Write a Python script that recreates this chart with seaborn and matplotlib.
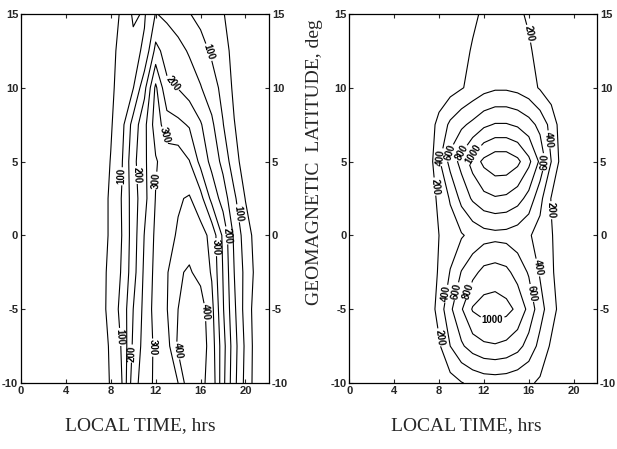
import matplotlib
matplotlib.use("Agg")
import matplotlib.pyplot as plt
import numpy as np
import seaborn as sns

# grid nodes (LOCAL TIME, hrs / GEOMAGNETIC LATITUDE, deg)
local_time = [0, 4, 6, 7, 8, 9, 10, 11, 12, 13, 14, 15, 16, 17, 18, 19, 20, 21, 22, 24]
latitude = [-10, -7.5, -5, -2.5, 0, 2.5, 5, 7.5, 10, 12.5, 15]

# left panel field, one row per latitude (from -10 to 15)
left_rows = [
    [0, 0, 5, 15, 55, 100, 230, 275, 310, 330, 350, 440, 410, 385, 265, 165, 85, 25, 5, 0],
    [0, 0, 5, 20, 58, 105, 210, 270, 310, 330, 410, 440, 430, 375, 270, 170, 90, 25, 5, 0],
    [0, 0, 5, 25, 70, 115, 200, 265, 320, 348, 400, 430, 425, 365, 255, 160, 80, 25, 5, 0],
    [0, 0, 8, 28, 65, 105, 180, 260, 315, 345, 395, 405, 385, 345, 248, 150, 85, 35, 8, 0],
    [0, 0, 8, 25, 58, 101, 175, 252, 310, 335, 355, 380, 370, 335, 240, 140, 75, 30, 8, 0],
    [0, 0, 8, 25, 58, 103, 175, 235, 302, 330, 345, 355, 318, 235, 178, 110, 48, 20, 5, 0],
    [0, 0, 8, 20, 52, 97, 185, 240, 295, 325, 330, 302, 235, 185, 135, 70, 25, 10, 3, 0],
    [0, 0, 8, 20, 45, 85, 170, 235, 325, 275, 262, 245, 205, 160, 102, 52, 20, 8, 2, 0],
    [0, 0, 8, 25, 42, 68, 98, 185, 310, 210, 198, 175, 153, 122, 85, 40, 15, 5, 0, 0],
    [0, 0, 8, 25, 40, 62, 85, 108, 215, 180, 165, 145, 120, 92, 62, 40, 20, 8, 0, 0],
    [0, 0, 8, 20, 35, 55, 108, 95, 152, 140, 125, 102, 85, 68, 52, 35, 20, 10, 3, 0],
]

# right panel field, one row per latitude (from -10 to 15)
right_rows = [
    [0, 0, 5, 20, 60, 120, 190, 240, 280, 290, 280, 250, 230, 170, 80, 30, 5, 0, 0, 0],
    [0, 0, 10, 40, 170, 400, 570, 690, 760, 780, 750, 670, 520, 340, 170, 60, 15, 5, 0, 0],
    [0, 0, 15, 60, 280, 560, 780, 1020, 1090, 1100, 1060, 960, 740, 480, 280, 110, 25, 5, 0, 0],
    [0, 0, 15, 80, 220, 410, 610, 740, 860, 890, 850, 720, 580, 380, 230, 90, 20, 5, 0, 0],
    [0, 0, 15, 80, 200, 300, 380, 460, 520, 540, 530, 490, 420, 330, 215, 90, 20, 5, 0, 0],
    [0, 0, 15, 90, 240, 420, 660, 830, 940, 980, 960, 880, 730, 460, 190, 80, 20, 5, 0, 0],
    [0, 0, 20, 70, 370, 670, 870, 1080, 1250, 1340, 1340, 1250, 1050, 760, 400, 100, 30, 5, 0, 0],
    [0, 0, 20, 90, 260, 440, 560, 650, 760, 815, 815, 770, 680, 540, 330, 80, 20, 5, 0, 0],
    [0, 0, 15, 40, 80, 120, 185, 260, 330, 370, 370, 340, 280, 180, 90, 30, 10, 0, 0, 0],
    [0, 0, 10, 30, 60, 100, 150, 215, 260, 280, 280, 260, 220, 150, 80, 20, 5, 0, 0, 0],
    [0, 0, 5, 20, 35, 60, 120, 170, 225, 250, 250, 225, 180, 120, 60, 20, 5, 0, 0, 0],
]

left_levels = [50, 100, 150, 200, 250, 300, 350, 400, 450]
right_levels = [200, 400, 600, 800, 1000, 1200]

# where the contour labels sit, per labelled level (LT, lat)
left_labels = {
    100: [(8.4, -6.9), (9.0, 4.0), (16.7, 12.4), (19.4, 1.5)],
    200: [(9.7, -8.0), (10.6, 4.1), (13.5, 10.3), (18.4, 0.0)],
    300: [(11.5, -7.6), (12.1, 3.7), (12.4, 6.7), (17.2, -0.8)],
    400: [(14.0, -7.8), (16.4, -5.2)],
}
right_labels = {
    200: [(16.3, 13.7), (7.5, 3.3), (17.8, 1.7), (8.1, -6.9)],
    400: [(8.1, 5.3), (17.8, 6.5), (17.4, -2.1), (8.1, -3.9)],
    600: [(8.9, 5.6), (17.8, 4.9), (9.0, -3.7), (16.3, -3.9)],
    800: [(9.8, 5.7), (9.9, -3.6)],
    1000: [(10.85, 5.6), (12.7, -6.1)],
}

sns.set_style("ticks")
plt.rcParams['font.family'] = ['Liberation Sans Narrow', 'Liberation Sans', 'DejaVu Sans']
plt.rcParams['axes.unicode_minus'] = False

fig = plt.figure(figsize=(6.17, 4.49), dpi=100)
ax1 = fig.add_axes([0.034, 0.147, 0.402, 0.822])
ax2 = fig.add_axes([0.566, 0.147, 0.402, 0.822])

X, Y = np.meshgrid(local_time, latitude)

panels = [
    (ax1, np.array(left_rows), left_levels, left_labels),
    (ax2, np.array(right_rows), right_levels, right_labels),
]

for ax, Z, levels, labels in panels:
    plain = [lv for lv in levels if lv not in labels]
    ax.contour(X, Y, Z, levels=plain, colors='black', linewidths=0.8)
    for lv, pos in labels.items():
        cs = ax.contour(X, Y, Z, levels=[lv], colors='black', linewidths=0.8)
        texts = ax.clabel(cs, manual=pos, fmt='%d', fontsize=7,
                          inline=True, inline_spacing=1)
        for t in texts:
            t.set_fontweight('bold')
    ax.set_xlim(0, 22.1)
    ax.set_ylim(-10, 15)
    ax.set_xticks([0, 4, 8, 12, 16, 20])
    ax.set_yticks([-10, -5, 0, 5, 10, 15])
    ax.tick_params(direction='in', top=True, right=True, labelright=True,
                   length=3, width=0.8, labelsize=8, pad=2)
    for sp in ax.spines.values():
        sp.set_linewidth(0.9)
        sp.set_color('black')
    ax.grid(False)
    for tick in ax.xaxis.get_major_ticks():
        tick.label1.set_fontweight('bold')
    for tick in ax.yaxis.get_major_ticks():
        tick.label1.set_fontweight('bold')
        tick.label2.set_fontweight('bold')

fig.text(0.228, 0.053, "LOCAL TIME, hrs", family='Liberation Serif',
         fontsize=14, ha='center', va='center')
fig.text(0.756, 0.053, "LOCAL TIME, hrs", family='Liberation Serif',
         fontsize=14, ha='center', va='center')
fig.text(0.509, 0.64, "GEOMAGNETIC  LATITUDE, deg", family='Liberation Serif',
         fontsize=14, rotation=90, ha='center', va='center')

fig.savefig("out.png", dpi=100)
